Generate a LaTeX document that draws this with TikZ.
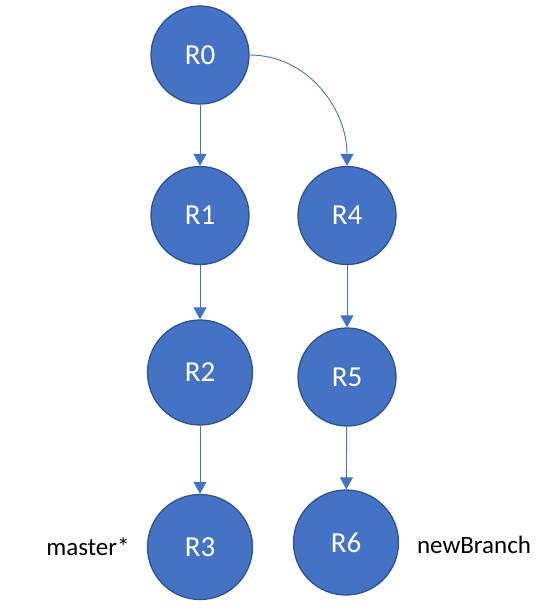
\documentclass[tikz,border=0pt]{standalone}
\usepackage{fontspec}
\setmainfont{Carlito}
\usetikzlibrary{arrows.meta}
\definecolor{nodefill}{HTML}{4472C4}
\definecolor{nodeline}{HTML}{2F528F}
\begin{document}
\begin{tikzpicture}[x=1pt,y=-1pt,
  commit/.style={circle,fill=nodefill,draw=nodeline,line width=1.3pt,
    inner sep=0pt,text=white,font=\fontsize{29}{32}\selectfont},
  small/.style={commit,minimum size=98pt},
  big/.style={commit,minimum size=105pt},
  conn/.style={draw=nodefill,line width=0.9pt,
    -{Triangle[width=13pt,length=12pt]}},
  lbl/.style={font=\fontsize{25}{29}\selectfont,text=black}]
\useasboundingbox (0,0) rectangle (551,611);
\node[small] (r0) at (200,55) {R0};
\node[small] (r1) at (200,215.5) {R1};
\node[big]   (r2) at (200,372.5) {R2};
\node[big]   (r3) at (200,547) {R3};
\node[small] (r4) at (347,215.5) {R4};
\node[small] (r5) at (347,377) {R5};
\node[big]   (r6) at (346,542.5) {R6};
\node[lbl] (m) at (88,547) {master*};
\node[lbl] (nb) at (474,545) {newBranch};
\draw[conn] (r0) -- (r1);
\draw[conn] (r1) -- (r2);
\draw[conn] (r2) -- (r3);
\draw[conn] (r0.east) to[out=0,in=90] (r4.north);
\draw[conn] (r4) -- (r5);
\draw[conn] (r5) -- (r6);
\end{tikzpicture}
\end{document}
